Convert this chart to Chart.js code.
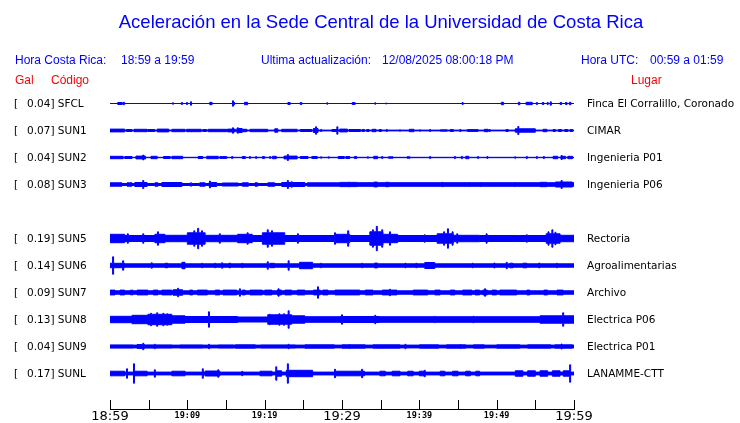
<!DOCTYPE html>
<html><head><meta charset="utf-8">
<script src="https://cdn.jsdelivr.net/npm/chart.js@4.4.1/dist/chart.umd.min.js"></script>
<style>
body{margin:0;background:#fff}
#wrap{position:relative;width:740px;height:423px;overflow:hidden;background:#fff}
canvas{position:absolute;left:0;top:0}
.t{position:absolute;white-space:pre;font-family:"Liberation Sans",Arial,sans-serif;font-size:12px;line-height:14px;color:#0000ff}
.red{color:#ff0000}
.st{position:absolute;white-space:pre;font-family:"DejaVu Sans",sans-serif;font-size:10.5px;line-height:12px;color:#000;transform:translateY(-50%)}
</style></head><body>
<div id="wrap">
<canvas id="c" width="740" height="423"></canvas>
<div class="t" style="left:11px;width:740px;top:11px;text-align:center;font-size:18.5px;line-height:22px">Aceleración en la Sede Central de la Universidad de Costa Rica</div>
<div class="t" style="left:15px;top:53px">Hora Costa Rica:</div>
<div class="t" style="left:121px;top:53px">18:59 a 19:59</div>
<div class="t" style="left:261px;top:53px">Ultima actualización:</div>
<div class="t" style="left:382px;top:53px">12/08/2025 08:00:18 PM</div>
<div class="t" style="left:581px;top:53px">Hora UTC:</div>
<div class="t" style="left:650px;top:53px">00:59 a 01:59</div>
<div class="t red" style="left:15px;top:73px">Gal</div>
<div class="t red" style="left:51px;top:73px">Código</div>
<div class="t red" style="left:631px;top:73px">Lugar</div>
<div id="labels"></div>
</div>
<script>
const stations = ['SFCL','SUN1','SUN2','SUN3','SUN5','SUN6','SUN7','SUN8','SUN9','SUNL'];
const peakGal = ['0.04','0.07','0.04','0.08','0.19','0.14','0.09','0.13','0.04','0.17'];
const places = ['Finca El Corralillo, Coronado','CIMAR','Ingenieria P01','Ingenieria P06','Rectoria','Agroalimentarias','Archivo','Electrica P06','Electrica P01','LANAMME-CTT'];
const rowIndex = [0,1,2,3,5,6,7,8,9,10];
const tickLabels = ['18:59','','19:09','','19:19','','19:29','','19:39','','19:49','','19:59'];
const baseAmp = [0,0.7,0.5,1.3,3.3,2.0,2.0,2.8,1.7,1.7];

// bursts: [startMinute, endMinute, halfAmplitude]; spikes: [minute, halfAmplitude]
const sfclBursts = [[1.0,1.6,1.3],[12.9,13.2,1.5],[17.4,17.8,1.5],[23.0,23.3,1.3],[24.6,24.8,1.3],[31.3,31.7,1.2],[50.6,50.9,1.5],[52.8,53.0,1.5],[53.8,54.6,1.5],[55.9,56.1,1.3],[58.2,58.4,1.3],[58.9,59.1,1.3],[59.4,59.6,1.5]];
const sfclSpikes = [[1.8,1.5],[8.15,1.0],[9.3,1.3],[9.96,1.3],[10.47,2],[15.9,3],[16.05,1.5],[28.1,1],[34.3,1],[35.7,0.8],[45.6,1.3],[55.2,1.3],[56.6,1.3],[57.0,2]];

const sun1Bursts = [[0,1.9,1.7],[2.1,2.85,1.3],[3.1,4.8,1.5],[4.9,5.8,1.3],[6.1,7.6,1.7],[8.0,9.7,1.5],[9.9,11.8,1.5],[12.0,12.5,1.3],[12.7,15.1,1.5],[15.2,16.2,1.7],[16.4,17.1,2.3],[17.2,17.7,1.5],[18.1,20.4,1.5],[21.3,21.7,2],[22.2,24.2,1.5],[24.6,26.1,1.3],[26.3,26.9,2.3],[28.7,29.5,1.3],[29.7,30.7,1.7],[30.9,32.4,1.3],[32.6,32.9,1.3],[33.2,33.5,1.3],[33.9,34.4,1.5],[34.8,35.1,1.3],[38.7,39.3,1.5],[42.7,43.6,1],[44.0,44.4,1.3],[46.2,47.6,1.2],[48.4,48.9,1.5],[51.2,51.5,1.3],[52.4,55.0,2],[56.0,56.5,1.5],[57.3,57.6,1.3],[58.0,58.4,1.3],[58.8,59.2,1.3],[59.5,59.8,1.3]];
const sun1Spikes = [[15.9,3],[16.55,3],[26.65,4],[27.3,1.3],[29.4,4],[35.8,1.3],[37.5,1],[40.1,1],[41.4,1.3],[45.3,1.3],[49.1,1.3],[52.8,4.3]];

const sun2Bursts = [[0,1.7,1.5],[1.9,2.85,1.3],[3.35,4.6,1.7],[5.3,6.1,1.5],[6.9,7.8,1.3],[8.0,9.4,1.5],[11.4,12.0,1.3],[12.5,14.0,1.5],[14.2,15.1,1.2],[17.1,17.5,1.3],[19.7,20.0,1.2],[21.0,21.5,1.5],[22.5,24.2,1.7],[24.6,25.6,1.3],[26.1,26.8,1.3],[29.5,30.3,1.3],[30.5,31.0,1.3],[31.6,31.9,1.3],[34.1,34.6,1.5],[36.0,36.6,1],[38.4,38.8,1],[46.0,46.4,1.5],[57.3,57.9,1.5],[58.3,58.9,1.5],[59.2,59.8,1.5]];
const sun2Spikes = [[4.3,2.7],[15.8,1.3],[18.1,1.2],[18.9,1.2],[20.7,1.2],[23.0,3.3],[27.3,1],[28.3,1],[33.35,1],[35.2,1.3],[41.4,1.3],[44.6,1.3],[45.5,1.5],[47.6,1.2],[48.8,1.2],[52.4,1],[53.9,1.3],[55.2,1.2],[56.1,1.3],[58.4,2.3]];

const sun3Bursts = [[0,1.55,2],[2.2,2.85,2],[3.2,4.8,2.3],[5.8,6.2,2],[6.7,9.3,2.3],[11.6,12.3,2],[12.8,13.8,2.3],[14.5,16.6,1.8],[17.1,17.9,2],[18.75,19.1,2],[20.4,21.3,2],[22.2,25.2,2.3],[25.5,29.7,2.0],[29.7,32.0,2.4],[32.0,60,2.1],[34.1,34.6,2.7],[35.6,36.1,2.5],[55.6,56.5,2.5],[57.6,59.8,2.8]];
const sun3Spikes = [[4.3,4.3],[10.47,2],[12.93,3.7],[23.0,4.3],[23.5,3],[30.9,2.7],[43.0,2.5],[46.5,2.3],[47.9,2.3],[52.3,2.3],[58.4,4.3]];

const sun5Bursts = [[0,1.9,4.5],[5.8,7.1,4.5],[7.1,10.0,3.5],[10.0,12.3,6],[12.3,16.5,3.5],[16.5,18.4,4.5],[19.7,22.6,6],[29.1,29.7,4.5],[29.7,31.0,4.5],[33.6,35.3,7],[35.3,37.2,4.5],[38.4,42.3,3],[42.3,44.4,5],[44.4,47.8,3.5],[53.0,56.4,3],[56.4,58.2,5],[58.2,60,3.5]];
const sun5Spikes = [[2.3,5],[4.3,5],[6.2,7],[10.9,8],[11.4,10.5],[11.9,8],[14.2,5],[17.8,6],[20.4,9],[20.95,8],[24.3,5],[29.1,6],[30.8,8],[34.0,9],[34.5,12.5],[35.2,9],[36.2,7],[40.7,4],[43.2,7],[43.7,10],[44.3,7],[44.9,5],[48.7,5],[53.9,4],[56.7,7],[57.2,9],[57.6,6.5]];

const sun6Bursts = [[0,1.9,2.5],[7.1,7.5,2.5],[9.3,9.7,3.5],[20.7,21.3,2.5],[24.5,26.2,3.5],[34.2,34.6,2.7],[40.7,42.0,3.3],[51.7,52.1,2.6],[53.4,53.9,2.6]];
const sun6Spikes = [[0.4,9],[1.7,5],[5.4,3],[11.9,2.6],[13.6,2.6],[14.5,3],[15.5,2.8],[17.1,2.6],[20.4,4],[23.1,5],[27.3,2.6],[32.6,2.6],[38.2,2.6],[39.6,2.6],[46.9,2.6],[49.7,2.8],[51.3,3.5],[55.5,2.8],[57.8,2.6]];

const sun7Bursts = [[0,0.65,2.7],[1.3,1.9,2.7],[2.6,3.0,2.6],[3.5,4.9,2.7],[5.6,6.2,2.7],[6.7,8.0,2.7],[8.15,9.4,3],[10.3,10.7,2.7],[11.3,12.6,2.7],[13.6,14.2,2.7],[14.6,16.4,2.7],[17.1,17.5,2.7],[18.1,19.7,2.7],[20.0,20.95,2.7],[21.6,22.2,2.7],[22.6,23.5,2.7],[24.2,25.2,2.7],[26.3,27.2,2.7],[27.5,28.2,2.7],[29.1,30.4,2.7],[30.4,32.3,2.7],[33.0,34.0,2.7],[35.2,37.1,2.7],[39.2,41.1,2.7],[42.0,42.7,2.7],[44.0,44.6,2.7],[45.6,46.8,2.7],[47.2,47.8,2.7],[48.2,48.8,2.7],[49.4,50.0,2.7],[50.4,52.6,2.7],[53.9,54.3,2.7],[56.1,56.6,2.7],[57.8,58.6,2.7]];
const sun7Spikes = [[8.8,4.5],[16.8,4],[21.8,4],[26.9,6],[36.2,3.5],[48.5,4]];

const sun8Bursts = [[0,2.85,3.5],[2.85,4.9,4.5],[4.9,8.0,5.5],[8.0,9.7,4],[9.7,16.5,3.3],[20.4,23.5,5],[23.5,25.2,4],[25.2,29.7,3.1],[29.7,34.9,3.3],[34.9,55.6,3.1],[55.6,60,4]];
const sun8Spikes = [[5.3,6.5],[6.1,7],[6.9,6.5],[7.4,6],[12.8,8],[20.6,5.5],[21.9,6],[22.5,6],[23.1,9],[30.0,5],[34.3,4.5],[42.0,3.5],[47.0,3.5],[58.6,7]];

const sun9Bursts = [[0,3.0,1.9],[3.5,4.5,2.2],[4.6,8.0,1.9],[9.0,12.0,1.9],[14.0,16.0,1.9],[16.2,18.8,2.0],[19.5,24.0,1.9],[25.2,29.0,2.0],[30.0,33.0,2.0],[34.0,37.5,2.0],[38.8,39.7,1.2],[40.0,42.5,2.0],[43.5,46.0,2.0],[47.0,48.4,2.0],[48.5,49.3,1.2],[50.0,53.0,2.0],[54.0,57.0,2.0],[57.5,59.8,2.0]];
const sun9Spikes = [[4.3,3.5],[5.8,2.5],[12.8,2.5],[23.1,2.5],[31.0,2.3],[38.2,2.5],[45.3,2.3],[58.4,2.8]];

const sunlBursts = [[0,1.9,2.6],[3.2,4.8,2.6],[8.0,9.7,2.6],[12.3,14.2,2.8],[19.4,20.95,2.6],[21.6,22.2,3],[22.8,26.2,3.5],[29.1,32.9,2.6],[34.9,35.6,2.6],[36.5,37.5,2.6],[38.5,39.2,2.6],[40.0,40.7,2.6],[42.7,43.3,2.6],[44.3,45.0,2.6],[46.0,46.6,2.6],[47.3,47.8,2.6],[52.4,53.4,3],[54.0,55.0,3],[55.6,56.6,3],[57.2,58.2,3],[58.6,59.5,3]];
const sunlSpikes = [[2.2,5],[3.1,10],[5.8,4],[12.0,5],[14.0,4],[17.1,2.5],[21.5,7],[23.0,10],[29.1,4.5],[32.6,4.5],[40.7,3.5],[59.5,9]];

const burstsList = [sfclBursts,sun1Bursts,sun2Bursts,sun3Bursts,sun5Bursts,sun6Bursts,sun7Bursts,sun8Bursts,sun9Bursts,sunlBursts];
const spikesList = [sfclSpikes,sun1Spikes,sun2Spikes,sun3Spikes,sun5Spikes,sun6Spikes,sun7Spikes,sun8Spikes,sun9Spikes,sunlSpikes];

const SLOT = 27, SPIKE_W = 0.13, BLUE = '#0000ff';

// Step envelope: each point's value holds until the next point
function envelope(base, bursts, spikes) {
  const iv = bursts.map(b => [b[0], b[1], b[2]])
    .concat(spikes.map(s => [s[0] - SPIKE_W / 2, s[0] + SPIKE_W / 2, s[1]]));
  let xs = [0, 60];
  iv.forEach(v => { xs.push(Math.max(0, Math.min(60, v[0]))); xs.push(Math.max(0, Math.min(60, v[1]))); });
  xs = [...new Set(xs.map(x => +x.toFixed(4)))].sort((a, b) => a - b);
  const pts = [];
  for (let i = 0; i < xs.length - 1; i++) {
    const m = (xs[i] + xs[i + 1]) / 2;
    let a = base;
    iv.forEach(v => { if (m >= v[0] && m <= v[1] && v[2] > a) a = v[2]; });
    pts.push([xs[i], a]);
  }
  pts.push([60, pts[pts.length - 1][1]]);
  return pts;
}

const datasets = [];
stations.forEach((st, i) => {
  const c = rowIndex[i] * SLOT;
  const env = envelope(baseAmp[i], burstsList[i], spikesList[i]);
  const common = { type: 'line', borderColor: BLUE, backgroundColor: BLUE, borderWidth: 1, pointRadius: 0, stepped: 'before', tension: 0 };
  datasets.push(Object.assign({}, common, { label: st + ' +', data: env.map(p => ({ x: p[0], y: c - Math.max(0, p[1] - 0.3) })), fill: false }));
  datasets.push(Object.assign({}, common, { label: st + ' -', data: env.map(p => ({ x: p[0], y: c + Math.max(0, p[1] - 0.3) })), fill: '-1' }));
});

const tickMarks = {
  id: 'tickMarks',
  afterDraw(chart) {
    const s = chart.scales.x, ctx = chart.ctx, b = chart.chartArea.bottom;
    ctx.save(); ctx.strokeStyle = '#000'; ctx.lineWidth = 1; ctx.beginPath();
    s.ticks.forEach(t => { const x = Math.round(s.getPixelForValue(t.value)) + 0.5; ctx.moveTo(x, b - 9); ctx.lineTo(x, b); });
    ctx.stroke(); ctx.restore();
  }
};

const chart = new Chart(document.getElementById('c'), {
  type: 'line',
  data: { datasets },
  plugins: [tickMarks],
  options: {
    responsive: false, animation: false, devicePixelRatio: 1,
    layout: { padding: { left: 110, right: 166, top: 76, bottom: 0 } },
    plugins: { legend: { display: false }, tooltip: { enabled: false } },
    scales: {
      x: {
        type: 'linear', min: 0, max: 60,
        afterFit: s => { s.height = 14; },
        grid: { display: false, drawTicks: false },
        border: { display: true, color: '#000', width: 1 },
        ticks: {
          stepSize: 5, autoSkip: false, maxRotation: 0, padding: 0, color: '#000',
          callback: (v, i) => tickLabels[i] ?? '',
          font: ctx => (ctx.tick && ctx.tick.value % 30 === 0)
            ? { family: 'DejaVu Sans', size: 13, lineHeight: '16px' }
            : { family: 'DejaVu Sans Mono', size: 8.5, weight: 'bold', lineHeight: '13.5px' }
        }
      },
      y: { type: 'linear', display: false, reverse: true, min: -SLOT - 0.5, max: SLOT * 11.333 - 0.5 }
    }
  }
});

const lab = document.getElementById('labels');
stations.forEach((st, i) => {
  const y = chart.scales.y.getPixelForValue(rowIndex[i] * SLOT) - 0.5;
  const add = (txt, x) => { const d = document.createElement('div'); d.className = 'st'; d.style.left = x + 'px'; d.style.top = y + 'px'; d.textContent = txt; lab.appendChild(d); };
  add('[', 14);
  add(peakGal[i] + '] ' + st, 27);
  add(places[i], chart.chartArea.right + 13);
});
</script>
</body></html>
